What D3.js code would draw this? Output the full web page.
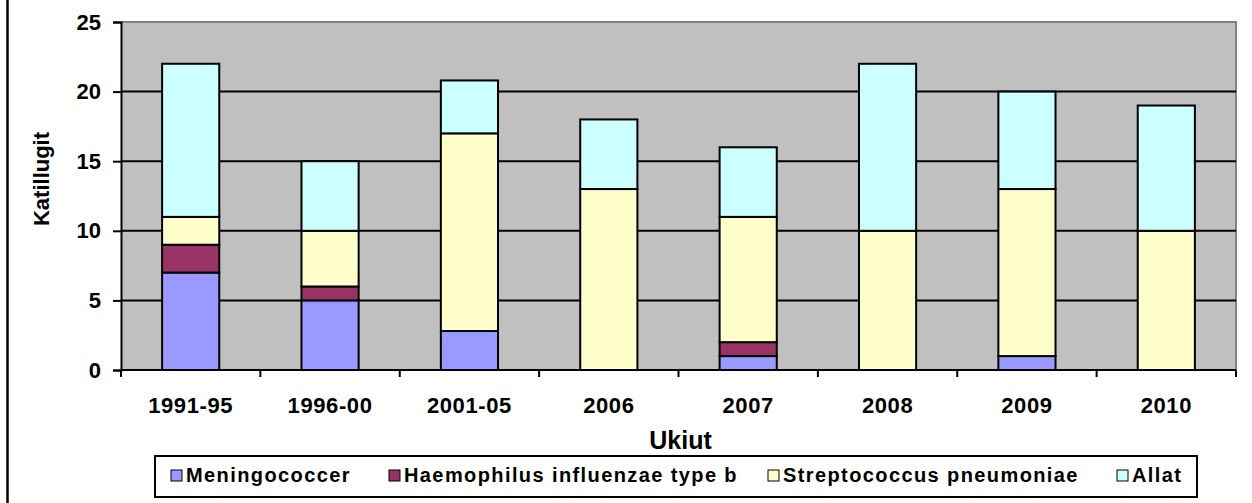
<!DOCTYPE html>
<html>
<head>
<meta charset="utf-8">
<script src="https://cdn.jsdelivr.net/npm/d3@7"></script>
<style>
  html, body { margin: 0; padding: 0; background: #fff; }
  svg { display: block; }
  text { font-family: "Liberation Sans", Arial, sans-serif; font-weight: bold; fill: #000; }
</style>
</head>
<body>
<svg id="chart" width="1252" height="503"></svg>
<script>
// ---- data ----
const categories = ["1991-95", "1996-00", "2001-05", "2006", "2007", "2008", "2009", "2010"];
const seriesNames = ["Meningococcer", "Haemophilus influenzae type b", "Streptococcus pneumoniae", "Allat"];
const meningococcer = [7, 5, 2.8, 0, 1, 0, 1, 0];
const haemophilus   = [2, 1, 0, 0, 1, 0, 0, 0];
const streptococcus = [2, 4, 14.2, 13, 9, 10, 12, 10];
const allat         = [11, 5, 3.8, 5, 5, 12, 7, 9];
const yTicks = [0, 5, 10, 15, 20, 25];
const colors = ["#9999FF", "#993366", "#FFFFCC", "#CCFFFF"];
const yTitle = "Katillugit";
const xTitle = "Ukiut";

// ---- layout ----
const svg = d3.select("#chart");
const pLeft = 121, pRight = 1236, pTop = 22, pBottom = 370;

const x = d3.scaleBand().domain(categories).range([pLeft, pRight])
  .paddingInner(0.59).paddingOuter(0.295);
const y = d3.scaleLinear().domain([0, 25]).range([pBottom, pTop]);

// outer chart border (left edge visible)
svg.append("line").attr("x1", 7.5).attr("x2", 7.5).attr("y1", 0).attr("y2", 503)
  .attr("stroke", "#000").attr("stroke-width", 2.5);

// plot area
svg.append("rect").attr("x", pLeft).attr("y", pTop).attr("width", pRight - pLeft).attr("height", pBottom - pTop)
  .attr("fill", "#C0C0C0");
svg.append("path").attr("d", `M${pLeft},${pTop}H${pRight}V${pBottom}`)
  .attr("fill", "none").attr("stroke", "#808080").attr("stroke-width", 2);

// gridlines
svg.append("g").selectAll("line").data(yTicks.filter(d => d > 0 && d < 25)).join("line")
  .attr("x1", pLeft).attr("x2", pRight).attr("y1", d => y(d)).attr("y2", d => y(d))
  .attr("stroke", "#000").attr("stroke-width", 2);

// stacked bars
const rows = categories.map((c, i) => ({
  cat: c,
  "Meningococcer": meningococcer[i],
  "Haemophilus influenzae type b": haemophilus[i],
  "Streptococcus pneumoniae": streptococcus[i],
  "Allat": allat[i]
}));
const stacked = d3.stack().keys(seriesNames)(rows);
const barG = svg.append("g");
stacked.forEach((layer, si) => {
  barG.append("g").selectAll("rect")
    .data(layer.filter(d => d[1] - d[0] > 0)).join("rect")
    .attr("x", d => x(d.data.cat))
    .attr("width", x.bandwidth())
    .attr("y", d => y(d[1]))
    .attr("height", d => y(d[0]) - y(d[1]))
    .attr("fill", colors[si])
    .attr("stroke", "#000").attr("stroke-width", 2);
});

// y axis
const yAxis = d3.axisLeft(y).tickValues(yTicks).tickSize(8).tickPadding(12);
const yg = svg.append("g").attr("transform", `translate(${pLeft},0)`).call(yAxis);
yg.select(".domain").attr("stroke", "#000").attr("stroke-width", 2);
yg.selectAll(".tick line").attr("stroke", "#000").attr("stroke-width", 2);
yg.selectAll(".tick text").attr("font-size", 22).attr("font-family", "Liberation Sans, Arial, sans-serif")
  .attr("font-weight", "bold").attr("fill", "#000");

// x axis
const step = x.step();
const boundaries = categories.map(c => x(c) - (step - x.bandwidth()) / 2).concat([pRight]);
svg.append("line").attr("x1", pLeft).attr("x2", pRight).attr("y1", pBottom).attr("y2", pBottom)
  .attr("stroke", "#000").attr("stroke-width", 2);
svg.append("g").selectAll("line").data(boundaries).join("line")
  .attr("x1", d => d).attr("x2", d => d).attr("y1", pBottom).attr("y2", pBottom + 7)
  .attr("stroke", "#000").attr("stroke-width", 2);
svg.append("g").selectAll("text").data(categories).join("text")
  .attr("x", d => x(d) + x.bandwidth() / 2).attr("y", 413)
  .attr("text-anchor", "middle").attr("font-size", 22).attr("letter-spacing", "0.6px").text(d => d);

// axis titles
svg.append("text").attr("transform", "translate(49,179) rotate(-90)")
  .attr("text-anchor", "middle").attr("font-size", 22).text(yTitle);
svg.append("text").attr("x", (pLeft + pRight) / 2 + 2).attr("y", 449)
  .attr("text-anchor", "middle").attr("font-size", 25).text(xTitle);

// legend
const legend = svg.append("g");
legend.append("rect").attr("x", 155).attr("y", 456).attr("width", 1197 - 155).attr("height", 497 - 456)
  .attr("fill", "#fff").attr("stroke", "#000").attr("stroke-width", 2);
const legendX = [171, 389, 768, 1117];
seriesNames.forEach((name, i) => {
  legend.append("rect").attr("x", legendX[i]).attr("y", 470).attr("width", 11).attr("height", 11)
    .attr("fill", colors[i]).attr("stroke", "#000").attr("stroke-width", 1);
  legend.append("text").attr("x", legendX[i] + 15).attr("y", 482)
    .attr("font-size", 20).attr("letter-spacing", "1.4px").text(name);
});
</script>
</body>
</html>
